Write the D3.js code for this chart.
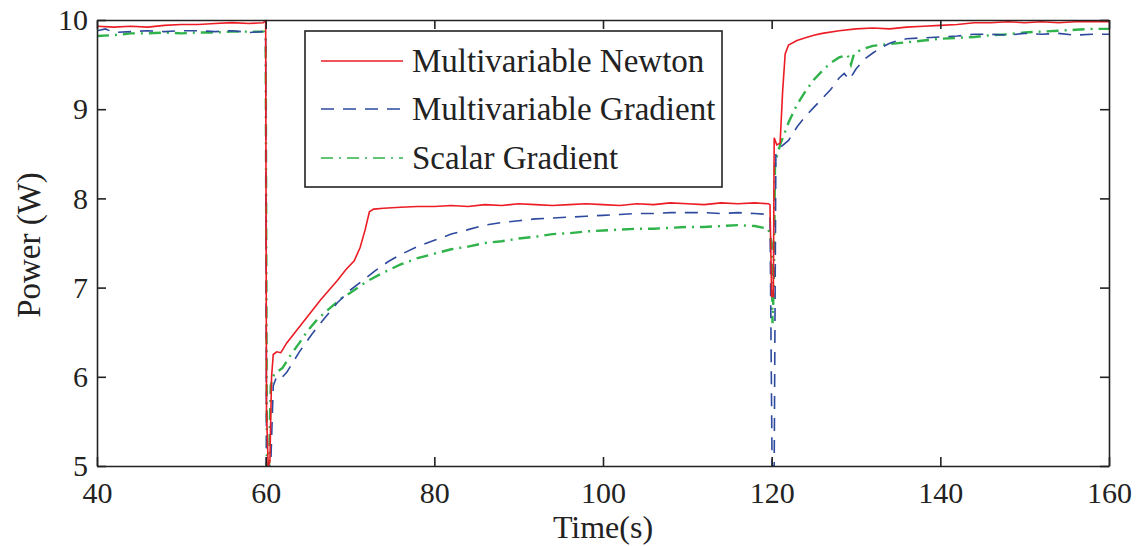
<html>
	<head>
		<title></title>
		<script type="text/javascript" src="https://d3js.org/d3.v7.min.js"></script>
		<style>
			body { margin: 0; background: #fff; }
			text { font-family: "Liberation Serif", "Times New Roman", serif; fill: #222; }
			.axis path, .axis line { stroke: #222; stroke-width: 1.6; }
		</style>
	</head>
	<body>
		<div></div>

		<script>
			//Values: [time (s), power (W)]
			var newton = [[40,9.93],[42,9.92],[44,9.93],[46,9.92],[48,9.94],[50,9.95],[52,9.95],[54,9.96],[56,9.97],[58,9.96],[59.7,9.97],[60,9.99],
				[60.1,5.6],[60.3,5.0],[60.5,5.05],[60.7,6.0],[60.9,6.25],[61.3,6.28],[61.8,6.27],[62.5,6.38],[63.5,6.5],[64.5,6.62],[65.5,6.74],
				[66.5,6.86],[67.5,6.97],[68.5,7.08],[69.5,7.2],[70.5,7.3],[71.2,7.45],[71.8,7.65],[72.3,7.85],[72.8,7.88],[74,7.89],[76,7.9],
				[78,7.91],[80,7.91],[82,7.92],[84,7.91],[86,7.93],[88,7.92],[90,7.94],[92,7.93],[94,7.92],[96,7.93],[98,7.94],[100,7.93],
				[102,7.92],[104,7.94],[106,7.93],[108,7.95],[110,7.94],[112,7.93],[114,7.95],[116,7.94],[118,7.95],[119.6,7.94],[119.8,7.93],
				[120,6.9],[120.2,6.9],[120.3,8.68],[120.6,8.6],[121,8.62],[121.3,9.2],[121.6,9.62],[122,9.72],[123,9.77],[124,9.8],[125,9.83],
				[126,9.85],[128,9.88],[130,9.9],[132,9.91],[134,9.9],[136,9.92],[138,9.93],[140,9.94],[142,9.95],[144,9.97],[146,9.97],
				[148,9.98],[150,9.97],[152,9.98],[154,9.97],[156,9.98],[158,9.98],[160,9.98]];

			var multiGrad = [[40,9.88],[41,9.9],[42,9.86],[44,9.87],[46,9.88],[48,9.87],[50,9.88],[52,9.88],[54,9.87],[56,9.88],[58,9.86],[59.8,9.87],
				[60,9.8],[60.1,5.0],[60.6,5.0],[60.9,5.9],[61.3,6.0],[61.8,5.98],[62.5,6.05],[64,6.28],[65.5,6.48],[67,6.66],[68.5,6.83],[70,6.97],
				[71.5,7.08],[73,7.19],[74.5,7.29],[76,7.37],[78,7.46],[80,7.53],[82,7.6],[84,7.65],[86,7.7],[88,7.73],[90,7.75],[92,7.77],
				[94,7.78],[96,7.79],[98,7.8],[100,7.81],[102,7.82],[104,7.83],[106,7.83],[108,7.84],[110,7.84],[112,7.84],[114,7.83],[116,7.84],
				[118,7.83],[119.8,7.82],[120.05,5.0],[120.3,5.0],[120.5,8.5],[121,8.57],[122,8.65],[123,8.8],[124,8.92],[125,9.02],[126,9.12],
				[127,9.22],[128,9.35],[128.6,9.4],[129.2,9.33],[130,9.45],[131,9.56],[132,9.63],[133,9.69],[134,9.74],[135,9.77],[136,9.79],
				[138,9.8],[140,9.81],[142,9.82],[144,9.84],[146,9.84],[148,9.83],[150,9.85],[152,9.84],[154,9.85],[156,9.83],[158,9.84],[160,9.84]];

			var scalarGrad = [[40,9.82],[42,9.83],[44,9.85],[46,9.85],[48,9.86],[50,9.85],[52,9.86],[54,9.86],[56,9.87],[58,9.87],[59.8,9.87],
				[60,9.8],[60.15,5.0],[60.4,5.0],[60.6,5.9],[61,6.03],[62,6.1],[63,6.25],[64,6.38],[65,6.52],[66,6.63],[67,6.72],[68,6.8],
				[69,6.88],[70,6.94],[72,7.07],[74,7.17],[76,7.26],[78,7.33],[80,7.38],[82,7.43],[84,7.46],[86,7.5],[88,7.52],[90,7.55],
				[92,7.57],[94,7.6],[96,7.61],[98,7.63],[100,7.64],[102,7.65],[104,7.66],[106,7.66],[108,7.67],[110,7.68],[112,7.68],[114,7.69],
				[116,7.7],[118,7.69],[119.6,7.66],[120,7.5],[120.1,6.6],[120.25,7.0],[120.4,8.4],[121,8.6],[122,8.85],[123,9.05],[124,9.2],
				[125,9.33],[126,9.43],[127,9.52],[128,9.58],[129,9.61],[129.4,9.5],[129.8,9.63],[131,9.68],[132,9.71],[134,9.73],[136,9.75],
				[138,9.77],[140,9.79],[142,9.8],[144,9.81],[146,9.83],[148,9.84],[150,9.86],[152,9.87],[154,9.88],[156,9.89],[158,9.9],[160,9.9]];

			var seriesNames = ["Multivariable Newton", "Multivariable Gradient", "Scalar Gradient"];
			var xTicks = [40, 60, 80, 100, 120, 140, 160];
			var yTicks = [5, 6, 7, 8, 9, 10];

			//Canvas and plot box (note: "top" is taken by window.top, so use plot* names)
			var canvasWidth = 1140, canvasHeight = 546;
			var plotLeft = 97, plotRight = 1109, plotTop = 20, plotBottom = 466;

			var canvas = d3.select("div").append("svg")
							.attr("width", canvasWidth)
							.attr("height", canvasHeight);

			var xScale = d3.scaleLinear().domain([40, 160]).range([plotLeft, plotRight]);
			var yScale = d3.scaleLinear().domain([5, 10]).range([plotBottom, plotTop]);

			//Line styles
			var styles = [
				{color: "#ec1c24", dash: null, width: 1.6},
				{color: "#2e4a9e", dash: "13,9", width: 1.6},
				{color: "#2fb34a", dash: "12,6,2,6", width: 2.4}
			];
			var allData = [newton, multiGrad, scalarGrad];

			canvas.append("clipPath").attr("id", "plotclip")
				.append("rect").attr("x", plotLeft).attr("y", plotTop - 2)
				.attr("width", plotRight - plotLeft).attr("height", plotBottom - plotTop + 2);

			var line = d3.line().x(function(d){ return xScale(d[0]); }).y(function(d){ return yScale(d[1]); });

			var lines = canvas.append("g").attr("clip-path", "url(#plotclip)");
			//draw in reverse so red sits on top
			for (var i = allData.length - 1; i >= 0; i--) {
				lines.append("path").datum(allData[i])
					.attr("d", line)
					.attr("fill", "none")
					.attr("stroke", styles[i].color)
					.attr("stroke-width", styles[i].width)
					.attr("stroke-dasharray", styles[i].dash);
			}

			//Axes, MATLAB style ticks pointing inward on all four sides
			canvas.append("g").attr("class", "axis")
				.attr("transform", "translate(0," + plotBottom + ")")
				.call(d3.axisBottom(xScale).tickValues(xTicks).tickFormat(d3.format("d")).tickSize(-9).tickPadding(16).tickSizeOuter(0))
				.selectAll("text").style("font-size", "30px").attr("fill", "#222");
			canvas.append("g").attr("class", "axis")
				.attr("transform", "translate(0," + plotTop + ")")
				.call(d3.axisTop(xScale).tickValues(xTicks).tickSize(-9).tickSizeOuter(0).tickFormat(""));
			canvas.append("g").attr("class", "axis")
				.attr("transform", "translate(" + plotLeft + ",0)")
				.call(d3.axisLeft(yScale).tickValues(yTicks).tickFormat(d3.format("d")).tickSize(-9).tickPadding(9).tickSizeOuter(0))
				.selectAll("text").style("font-size", "30px").attr("fill", "#222");
			canvas.append("g").attr("class", "axis")
				.attr("transform", "translate(" + plotRight + ",0)")
				.call(d3.axisRight(yScale).tickValues(yTicks).tickSize(-9).tickSizeOuter(0).tickFormat(""));

			//Axis titles
			canvas.append("text").text("Time(s)")
				.attr("x", (plotLeft + plotRight) / 2).attr("y", 538)
				.attr("text-anchor", "middle").style("font-size", "32px");
			canvas.append("text").text("Power (W)")
				.attr("transform", "translate(40," + ((plotTop + plotBottom) / 2 + 2) + ") rotate(-90)")
				.attr("text-anchor", "middle").style("font-size", "33px");

			//Legend
			var legend = canvas.append("g");
			legend.append("rect").attr("x", 305).attr("y", 31).attr("width", 417).attr("height", 156)
				.attr("fill", "#fff").attr("stroke", "#222").attr("stroke-width", 1.6);
			var rowY = [61, 109, 158];
			for (var j = 0; j < seriesNames.length; j++) {
				legend.append("line")
					.attr("x1", 321).attr("x2", 403).attr("y1", rowY[j]).attr("y2", rowY[j])
					.attr("stroke", styles[j].color).attr("stroke-width", 1.4)
					.attr("stroke-dasharray", styles[j].dash);
				legend.append("text").text(seriesNames[j])
					.attr("x", 412).attr("y", rowY[j] + 11)
					.style("font-size", "33px");
			}
		</script>
	</body>
</html>
